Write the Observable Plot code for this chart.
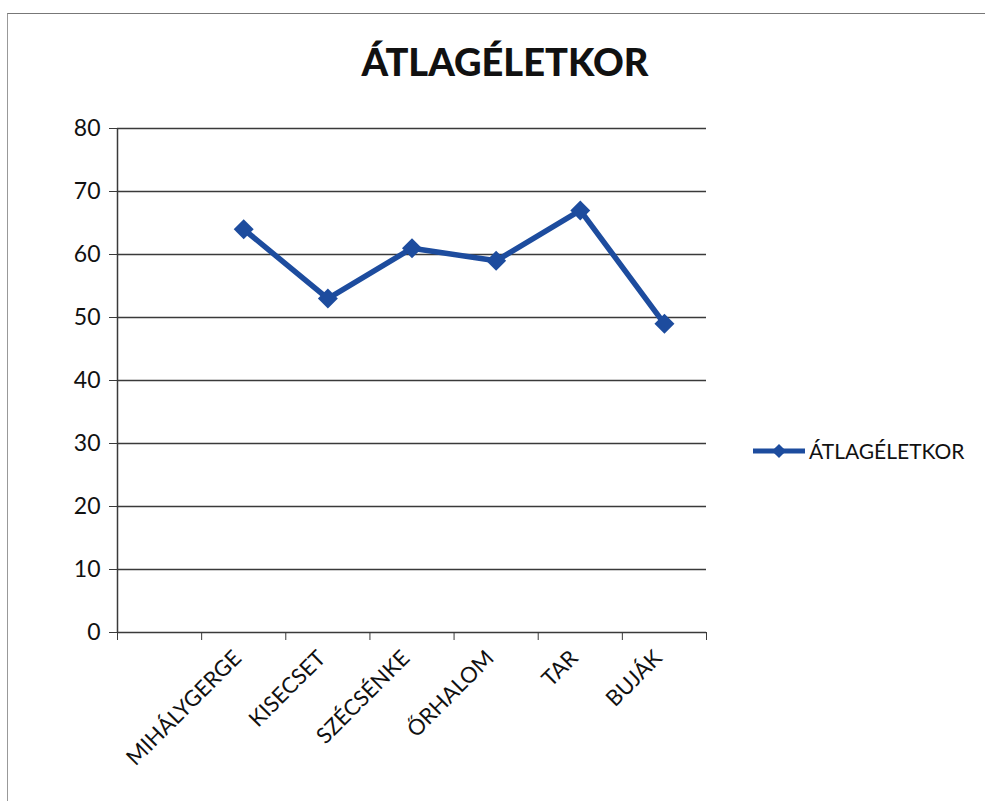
<!DOCTYPE html>
<html><head><meta charset="utf-8">
<script src="https://cdn.jsdelivr.net/npm/d3@7"></script>
<script src="https://cdn.jsdelivr.net/npm/@observablehq/plot@0.6"></script>
<style>
body{margin:0;background:#fff;}
#wrap{position:relative;width:985px;height:801px;overflow:hidden;font-family:Lato,sans-serif;color:#111;background:#fff;}
#frame{position:absolute;left:7px;top:13px;width:1100px;height:1000px;border-top:1.5px solid #777;border-left:1.5px solid #999;}
#title{position:absolute;top:38px;left:0;width:1010px;text-align:center;font:900 38px Lato,sans-serif;color:#111;}
#chart{position:absolute;left:0;top:100px;}
#legend{position:absolute;left:752px;top:438px;display:flex;align-items:center;font-size:21px;}
#legend svg{margin-right:3px;}
</style></head>
<body>
<div id="wrap">
  <div id="frame"></div>
  <div id="title">ÁTLAGÉLETKOR</div>
  <div id="chart"></div>
  <div id="legend"></div>
</div>
<script>
const categories = ["MIHÁLYGERGE","KISECSET","SZÉCSÉNKE","ŐRHALOM","TAR","BUJÁK"];
const values = [64, 53, 61, 59, 67, 49];
const yTicks = [0, 10, 20, 30, 40, 50, 60, 70, 80];
const seriesName = "ÁTLAGÉLETKOR";
const lineColor = "#1d4c9e";

// one empty category slot precedes the data (as in the original chart)
const slotCount = categories.length + 1;
const data = categories.map((c, i) => ({name: c, slot: i + 1.5, value: values[i]}));
const nameBySlot = new Map(data.map(d => [d.slot, d.name]));

const chart = Plot.plot({
  width: 985,
  height: 700,
  marginLeft: 117,
  marginRight: 279,
  marginTop: 28,
  marginBottom: 168,
  x: {domain: [0, slotCount]},
  y: {domain: [0, 80]},
  style: {fontFamily: "Lato, sans-serif", fontSize: "23px", color: "#111", background: "transparent"},
  marks: [
    Plot.gridY(yTicks, {stroke: "#3a3a3a", strokeOpacity: 1, strokeWidth: 1.5}),
    Plot.axisY(yTicks, {tickSize: 8, tickPadding: 9, label: null, stroke: "#3a3a3a"}),
    Plot.ruleX([0], {stroke: "#3a3a3a", strokeWidth: 1.5}),
    Plot.axisX(d3.range(0, slotCount + 1), {tickSize: 8, tickFormat: () => "", label: null, stroke: "#3a3a3a"}),
    Plot.axisX(data.map(d => d.slot), {tickSize: 0, tickRotate: -45, tickPadding: 22, dx: -6, label: null, fontSize: 22, tickFormat: v => nameBySlot.get(v)}),
    Plot.line(data, {x: "slot", y: "value", stroke: lineColor, strokeWidth: 5.5}),
    Plot.dot(data, {x: "slot", y: "value", symbol: "diamond2", fill: lineColor, r: 9})
  ]
});
document.getElementById("chart").appendChild(chart);

const legend = document.getElementById("legend");
legend.innerHTML = `<svg width="54" height="20"><line x1="1" y1="10" x2="53" y2="10" stroke="${lineColor}" stroke-width="5"/><rect x="22" y="5" width="10" height="10" fill="${lineColor}" transform="rotate(45 27 10)"/></svg><span>${seriesName}</span>`;
</script>
</body></html>
